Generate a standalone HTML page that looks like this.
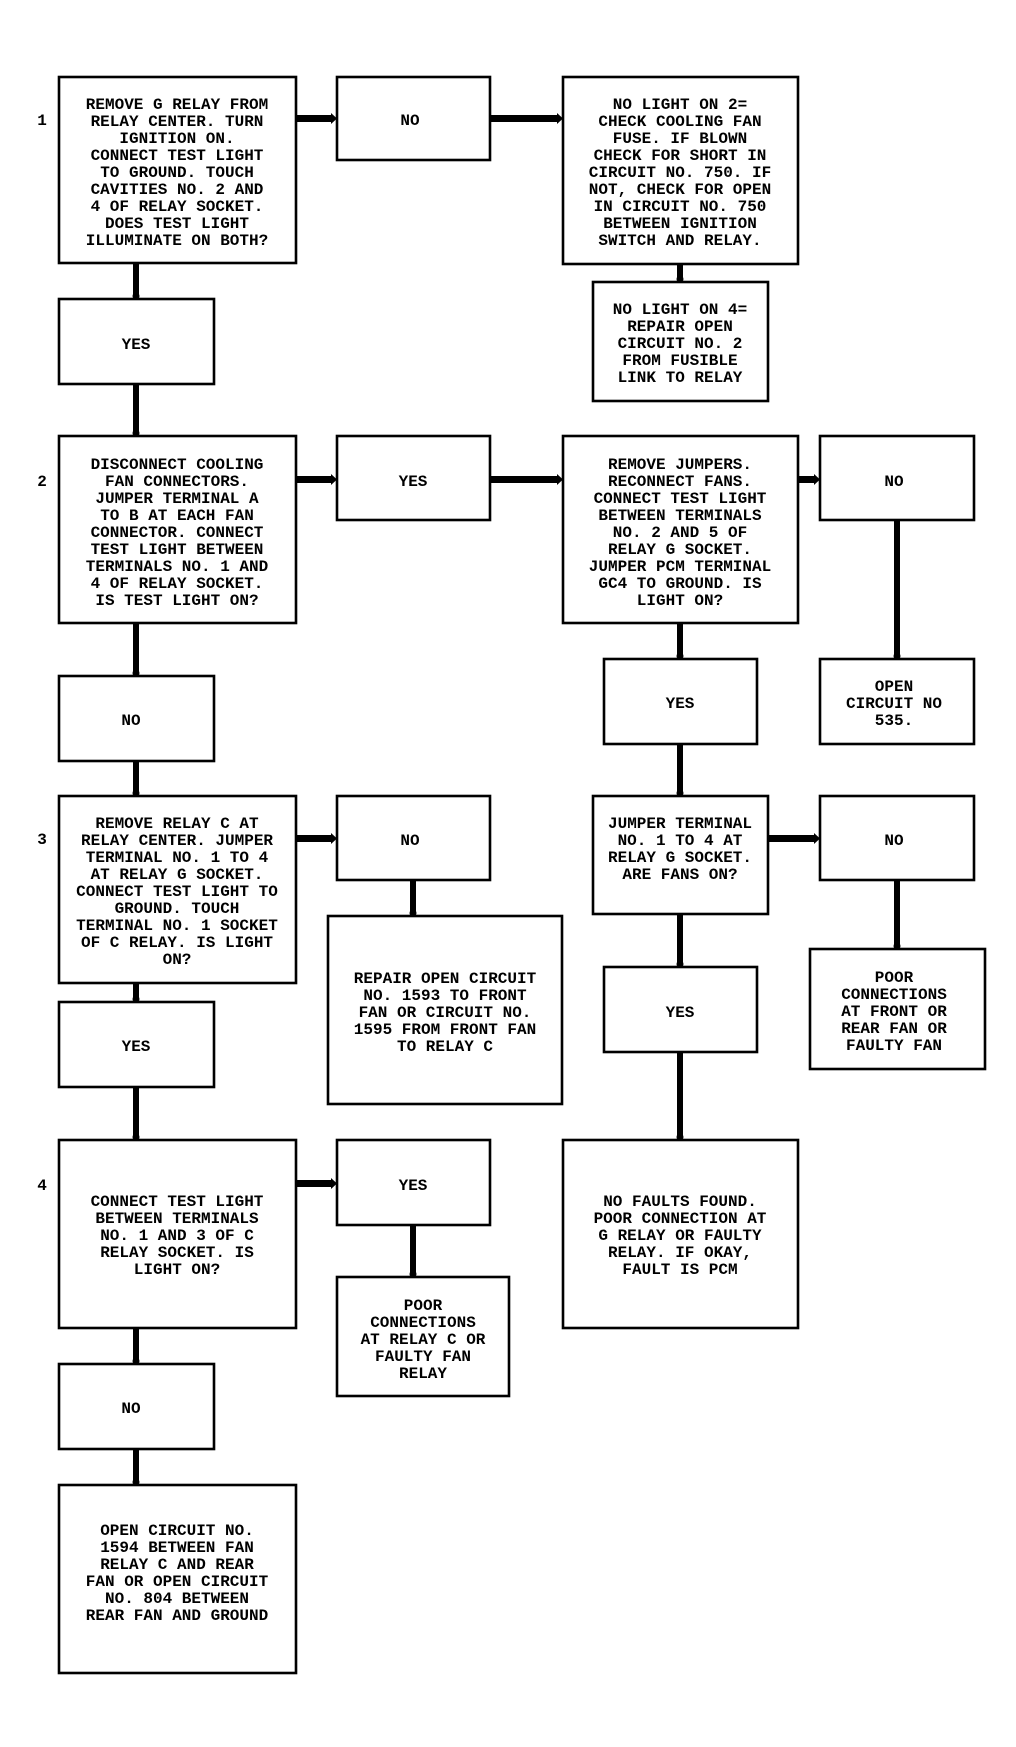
<!DOCTYPE html>
<html><head><meta charset="utf-8"><style>
html,body{margin:0;padding:0;background:#fff;}
svg{display:block;}
text{font-family:"Liberation Mono",monospace;font-weight:bold;font-size:16px;fill:#000;text-anchor:middle;}
</style></head><body>
<svg width="1016" height="1747" viewBox="0 0 1016 1747" xmlns="http://www.w3.org/2000/svg">
<g fill="none" stroke="#000" stroke-width="2.6">
<rect x="59" y="77" width="237" height="186"/>
<rect x="337" y="77" width="153" height="83"/>
<rect x="563" y="77" width="235" height="187"/>
<rect x="593" y="282" width="175" height="119"/>
<rect x="59" y="299" width="155" height="85"/>
<rect x="59" y="436" width="237" height="187"/>
<rect x="337" y="436" width="153" height="84"/>
<rect x="563" y="436" width="235" height="187"/>
<rect x="820" y="436" width="154" height="84"/>
<rect x="59" y="676" width="155" height="85"/>
<rect x="604" y="659" width="153" height="85"/>
<rect x="820" y="659" width="154" height="85"/>
<rect x="59" y="796" width="237" height="187"/>
<rect x="337" y="796" width="153" height="84"/>
<rect x="328" y="916" width="234" height="188"/>
<rect x="593" y="796" width="175" height="118"/>
<rect x="820" y="796" width="154" height="84"/>
<rect x="810" y="949" width="175" height="120"/>
<rect x="59" y="1002" width="155" height="85"/>
<rect x="604" y="967" width="153" height="85"/>
<rect x="59" y="1140" width="237" height="188"/>
<rect x="337" y="1140" width="153" height="85"/>
<rect x="563" y="1140" width="235" height="188"/>
<rect x="337" y="1277" width="172" height="119"/>
<rect x="59" y="1364" width="155" height="85"/>
<rect x="59" y="1485" width="237" height="188"/>
</g>
<g fill="#000">
<!-- horizontal connectors -->
<rect x="296" y="115" width="37" height="7"/><polygon points="331,113 337,118.5 331,124"/>
<rect x="490" y="115" width="69" height="7"/><polygon points="557,113 563,118.5 557,124"/>
<rect x="296" y="476" width="37" height="7"/><polygon points="331,474 337,479.5 331,485"/>
<rect x="490" y="476" width="69" height="7"/><polygon points="557,474 563,479.5 557,485"/>
<rect x="798" y="476" width="18" height="7"/><polygon points="814,474 820,479.5 814,485"/>
<rect x="296" y="835" width="37" height="7"/><polygon points="331,833 337,838.5 331,844"/>
<rect x="768" y="835" width="48" height="7"/><polygon points="814,833 820,838.5 814,844"/>
<rect x="296" y="1180" width="37" height="7"/><polygon points="331,1178 337,1183.5 331,1189"/>
<!-- vertical connectors -->
<rect x="133" y="263" width="6" height="32"/><circle cx="136" cy="296" r="3.5"/>
<rect x="133" y="384" width="6" height="48"/><circle cx="136" cy="433" r="3.5"/>
<rect x="677" y="264" width="6" height="14"/><circle cx="680" cy="279" r="3.5"/>
<rect x="894" y="520" width="6" height="135"/><circle cx="897" cy="656" r="3.5"/>
<rect x="677" y="623" width="6" height="32"/><circle cx="680" cy="656" r="3.5"/>
<rect x="677" y="744" width="6" height="48"/><circle cx="680" cy="793" r="3.5"/>
<rect x="133" y="623" width="6" height="49"/><circle cx="136" cy="673" r="3.5"/>
<rect x="133" y="761" width="6" height="31"/><circle cx="136" cy="793" r="3.5"/>
<rect x="410" y="880" width="6" height="32"/><circle cx="413" cy="913" r="3.5"/>
<rect x="894" y="880" width="6" height="65"/><circle cx="897" cy="946" r="3.5"/>
<rect x="677" y="914" width="6" height="49"/><circle cx="680" cy="964" r="3.5"/>
<rect x="677" y="1052" width="6" height="84"/><circle cx="680" cy="1137" r="3.5"/>
<rect x="133" y="983" width="6" height="15"/><circle cx="136" cy="999" r="3.5"/>
<rect x="133" y="1087" width="6" height="49"/><circle cx="136" cy="1137" r="3.5"/>
<rect x="410" y="1225" width="6" height="48"/><circle cx="413" cy="1274" r="3.5"/>
<rect x="133" y="1328" width="6" height="32"/><circle cx="136" cy="1361" r="3.5"/>
<rect x="133" y="1449" width="6" height="32"/><circle cx="136" cy="1482" r="3.5"/>
</g>
<g>
<text x="42" y="125">1</text>
<text x="42" y="486">2</text>
<text x="42" y="844">3</text>
<text x="42" y="1190">4</text>

<text x="177" y="109">REMOVE G RELAY FROM</text>
<text x="177" y="126">RELAY CENTER. TURN</text>
<text x="177" y="143">IGNITION ON.</text>
<text x="177" y="160">CONNECT TEST LIGHT</text>
<text x="177" y="177">TO GROUND. TOUCH</text>
<text x="177" y="194">CAVITIES NO. 2 AND</text>
<text x="177" y="211">4 OF RELAY SOCKET.</text>
<text x="177" y="228">DOES TEST LIGHT</text>
<text x="177" y="245">ILLUMINATE ON BOTH?</text>

<text x="410" y="125">NO</text>

<text x="680" y="109">NO LIGHT ON 2=</text>
<text x="680" y="126">CHECK COOLING FAN</text>
<text x="680" y="143">FUSE. IF BLOWN</text>
<text x="680" y="160">CHECK FOR SHORT IN</text>
<text x="680" y="177">CIRCUIT NO. 750. IF</text>
<text x="680" y="194">NOT, CHECK FOR OPEN</text>
<text x="680" y="211">IN CIRCUIT NO. 750</text>
<text x="680" y="228">BETWEEN IGNITION</text>
<text x="680" y="245">SWITCH AND RELAY.</text>

<text x="680" y="314">NO LIGHT ON 4=</text>
<text x="680" y="331">REPAIR OPEN</text>
<text x="680" y="348">CIRCUIT NO. 2</text>
<text x="680" y="365">FROM FUSIBLE</text>
<text x="680" y="382">LINK TO RELAY</text>

<text x="136" y="349">YES</text>

<text x="177" y="469">DISCONNECT COOLING</text>
<text x="177" y="486">FAN CONNECTORS.</text>
<text x="177" y="503">JUMPER TERMINAL A</text>
<text x="177" y="520">TO B AT EACH FAN</text>
<text x="177" y="537">CONNECTOR. CONNECT</text>
<text x="177" y="554">TEST LIGHT BETWEEN</text>
<text x="177" y="571">TERMINALS NO. 1 AND</text>
<text x="177" y="588">4 OF RELAY SOCKET.</text>
<text x="177" y="605">IS TEST LIGHT ON?</text>

<text x="413" y="486">YES</text>

<text x="680" y="469">REMOVE JUMPERS.</text>
<text x="680" y="486">RECONNECT FANS.</text>
<text x="680" y="503">CONNECT TEST LIGHT</text>
<text x="680" y="520">BETWEEN TERMINALS</text>
<text x="680" y="537">NO. 2 AND 5 OF</text>
<text x="680" y="554">RELAY G SOCKET.</text>
<text x="680" y="571">JUMPER PCM TERMINAL</text>
<text x="680" y="588">GC4 TO GROUND. IS</text>
<text x="680" y="605">LIGHT ON?</text>

<text x="894" y="486">NO</text>
<text x="131" y="725">NO</text>
<text x="680" y="708">YES</text>

<text x="894" y="691">OPEN</text>
<text x="894" y="708">CIRCUIT NO</text>
<text x="894" y="725">535.</text>

<text x="177" y="828">REMOVE RELAY C AT</text>
<text x="177" y="845">RELAY CENTER. JUMPER</text>
<text x="177" y="862">TERMINAL NO. 1 TO 4</text>
<text x="177" y="879">AT RELAY G SOCKET.</text>
<text x="177" y="896">CONNECT TEST LIGHT TO</text>
<text x="177" y="913">GROUND. TOUCH</text>
<text x="177" y="930">TERMINAL NO. 1 SOCKET</text>
<text x="177" y="947">OF C RELAY. IS LIGHT</text>
<text x="177" y="964">ON?</text>

<text x="410" y="845">NO</text>

<text x="680" y="828">JUMPER TERMINAL</text>
<text x="680" y="845">NO. 1 TO 4 AT</text>
<text x="680" y="862">RELAY G SOCKET.</text>
<text x="680" y="879">ARE FANS ON?</text>

<text x="894" y="845">NO</text>

<text x="445" y="983">REPAIR OPEN CIRCUIT</text>
<text x="445" y="1000">NO. 1593 TO FRONT</text>
<text x="445" y="1017">FAN OR CIRCUIT NO.</text>
<text x="445" y="1034">1595 FROM FRONT FAN</text>
<text x="445" y="1051">TO RELAY C</text>

<text x="894" y="982">POOR</text>
<text x="894" y="999">CONNECTIONS</text>
<text x="894" y="1016">AT FRONT OR</text>
<text x="894" y="1033">REAR FAN OR</text>
<text x="894" y="1050">FAULTY FAN</text>

<text x="136" y="1051">YES</text>
<text x="680" y="1017">YES</text>

<text x="177" y="1206">CONNECT TEST LIGHT</text>
<text x="177" y="1223">BETWEEN TERMINALS</text>
<text x="177" y="1240">NO. 1 AND 3 OF C</text>
<text x="177" y="1257">RELAY SOCKET. IS</text>
<text x="177" y="1274">LIGHT ON?</text>

<text x="413" y="1190">YES</text>

<text x="680" y="1206">NO FAULTS FOUND.</text>
<text x="680" y="1223">POOR CONNECTION AT</text>
<text x="680" y="1240">G RELAY OR FAULTY</text>
<text x="680" y="1257">RELAY. IF OKAY,</text>
<text x="680" y="1274">FAULT IS PCM</text>

<text x="423" y="1310">POOR</text>
<text x="423" y="1327">CONNECTIONS</text>
<text x="423" y="1344">AT RELAY C OR</text>
<text x="423" y="1361">FAULTY FAN</text>
<text x="423" y="1378">RELAY</text>

<text x="131" y="1413">NO</text>

<text x="177" y="1535">OPEN CIRCUIT NO.</text>
<text x="177" y="1552">1594 BETWEEN FAN</text>
<text x="177" y="1569">RELAY C AND REAR</text>
<text x="177" y="1586">FAN OR OPEN CIRCUIT</text>
<text x="177" y="1603">NO. 804 BETWEEN</text>
<text x="177" y="1620">REAR FAN AND GROUND</text>
</g>
</svg>
</body></html>
